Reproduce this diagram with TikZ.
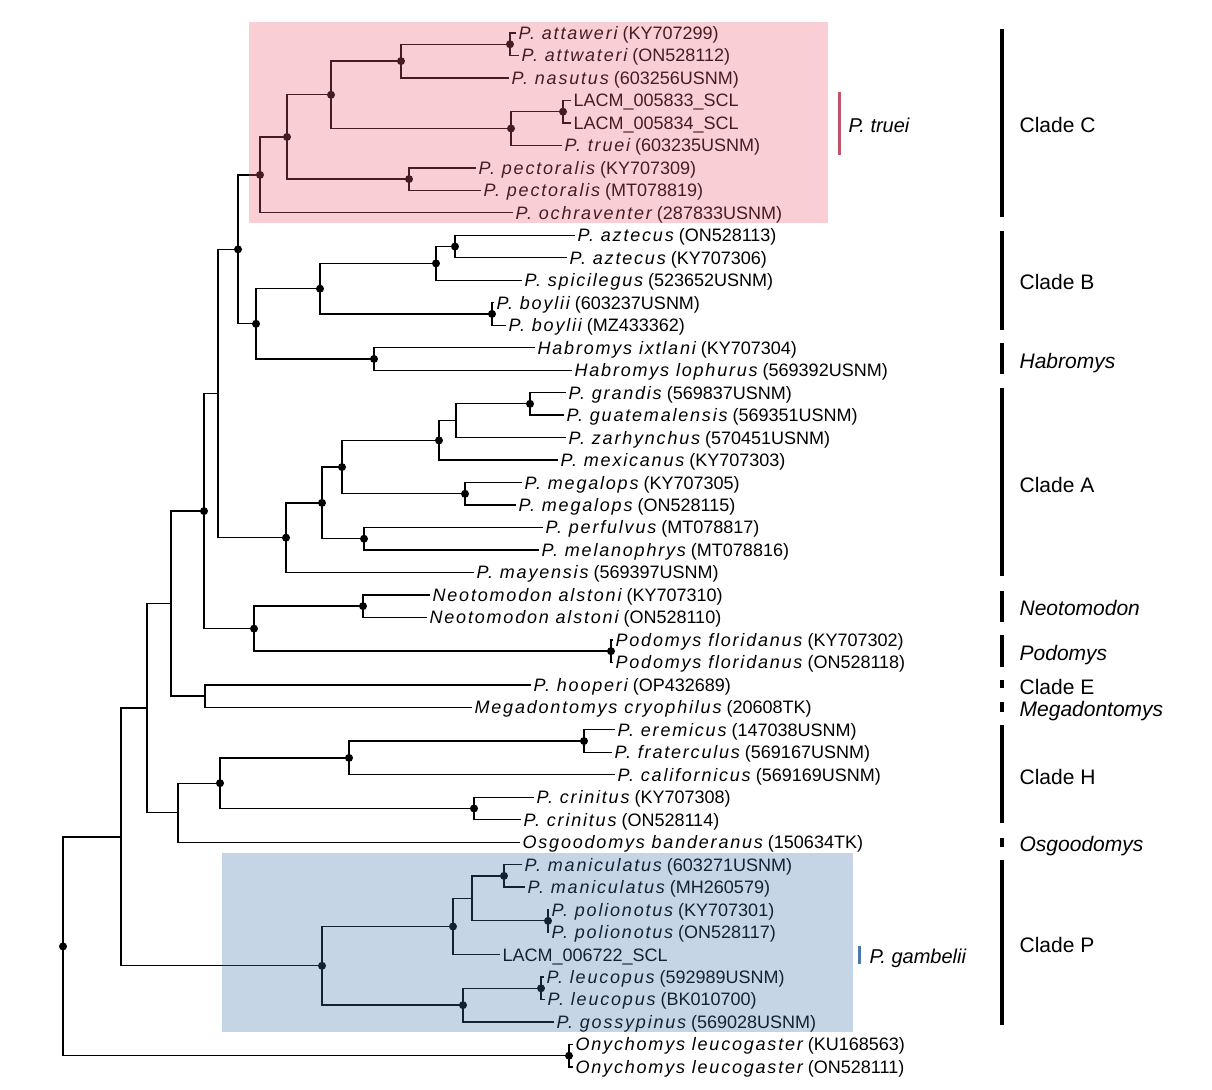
\documentclass[tikz,border=0pt]{standalone}
\usepackage{fontspec}
\setmainfont{Liberation Sans}
\newfontfamily\spacedit[LetterSpace=10]{Liberation Sans Italic}
\newcommand{\sci}[1]{{\spacedit #1}}
\definecolor{trueired}{RGB}{193,84,104}
\definecolor{gambblue}{RGB}{72,122,172}
\definecolor{pinkbox}{RGB}{235,92,112}
\definecolor{bluebox}{RGB}{65,115,168}
\begin{document}
\begin{tikzpicture}[x=0.5pt,y=-0.5pt,line width=0.65pt,
  leaf/.style={anchor=west,inner sep=1pt,text height=6.45pt,text depth=0pt,font=\fontsize{9}{10}\selectfont},
  cladelab/.style={anchor=west,inner sep=0pt,text height=7.5pt,text depth=0pt,font=\fontsize{10.5}{12}\selectfont},
  cladebar/.style={line width=2pt}]
\useasboundingbox (0,0) rectangle (1212,1090);

% internal nodes
\coordinate (nAtt) at (510,44.25);
\coordinate (nAttNas) at (401,61.1);
\coordinate (nLacm) at (563,111.65);
\coordinate (nTruei) at (511,128.5);
\coordinate (nNasTru) at (331,94.8);
\coordinate (nPect) at (409,179.1);
\coordinate (nC2) at (287,136.95);
\coordinate (nC) at (260,174.9);
\coordinate (nAzt) at (455,246.55);
\coordinate (nAztSpi) at (436,263.4);
\coordinate (nBoy) at (492,313.95);
\coordinate (nB) at (320,288.7);
\coordinate (nHab) at (374,358.95);
\coordinate (nBH) at (256,323.8);
\coordinate (nCBH) at (238,249.35);
\coordinate (nGra) at (530,403.85);
\coordinate (nGraZar) at (456,420.7);
\coordinate (nMex) at (439,440.4);
\coordinate (nMeg) at (465,493.8);
\coordinate (nA3) at (342,467.1);
\coordinate (nPer) at (364,538.75);
\coordinate (nA2) at (322,502.9);
\coordinate (nA) at (286,537.7);
\coordinate (nCBHA) at (218,393.5);
\coordinate (nNeo) at (363,606.15);
\coordinate (nPod) at (611,651.15);
\coordinate (nNP) at (254,628.65);
\coordinate (nUp) at (204,511.1);
\coordinate (nEM) at (205,696.1);
\coordinate (nUp2) at (171,603.6);
\coordinate (nEre) at (584,741.05);
\coordinate (nCal) at (349,757.9);
\coordinate (nCri) at (474,808.45);
\coordinate (nH) at (220,783.2);
\coordinate (nHO) at (178,812.7);
\coordinate (nUp3) at (147,708.15);
\coordinate (nMan) at (504,875.9);
\coordinate (nPol) at (548,920.85);
\coordinate (nManPol) at (472,898.4);
\coordinate (nPLacm) at (453,926.5);
\coordinate (nLeu) at (541,988.3);
\coordinate (nGos) at (463,1005.15);
\coordinate (nP) at (322,965.8);
\coordinate (nIn) at (121,836.98);
\coordinate (nOny) at (569,1055.75);
\coordinate (root) at (63,946.4);

% tips
\node[leaf] (t1) at (516,33.0) {\sci{P. attaweri} (KY707299)};
\node[leaf] (t2) at (519,55.5) {\sci{P. attwateri} (ON528112)};
\node[leaf] (t3) at (509,78.0) {\sci{P. nasutus} (603256USNM)};
\node[leaf] (t4) at (571,100.4) {LACM\_005833\_SCL};
\node[leaf] (t5) at (571,122.9) {LACM\_005834\_SCL};
\node[leaf] (t6) at (562,145.4) {\sci{P. truei} (603235USNM)};
\node[leaf] (t7) at (476,167.9) {\sci{P. pectoralis} (KY707309)};
\node[leaf] (t8) at (481,190.3) {\sci{P. pectoralis} (MT078819)};
\node[leaf] (t9) at (513,212.8) {\sci{P. ochraventer} (287833USNM)};
\node[leaf] (t10) at (575,235.3) {\sci{P. aztecus} (ON528113)};
\node[leaf] (t11) at (567,257.8) {\sci{P. aztecus} (KY707306)};
\node[leaf] (t12) at (522,280.3) {\sci{P. spicilegus} (523652USNM)};
\node[leaf] (t13) at (494,302.7) {\sci{P. boylii} (603237USNM)};
\node[leaf] (t14) at (506,325.2) {\sci{P. boylii} (MZ433362)};
\node[leaf] (t15) at (535,347.7) {\sci{Habromys ixtlani} (KY707304)};
\node[leaf] (t16) at (572,370.2) {\sci{Habromys lophurus} (569392USNM)};
\node[leaf] (t17) at (566,392.6) {\sci{P. grandis} (569837USNM)};
\node[leaf] (t18) at (564,415.1) {\sci{P. guatemalensis} (569351USNM)};
\node[leaf] (t19) at (566,437.6) {\sci{P. zarhynchus} (570451USNM)};
\node[leaf] (t20) at (558,460.1) {\sci{P. mexicanus} (KY707303)};
\node[leaf] (t21) at (522,482.6) {\sci{P. megalops} (KY707305)};
\node[leaf] (t22) at (516,505.0) {\sci{P. megalops} (ON528115)};
\node[leaf] (t23) at (543,527.5) {\sci{P. perfulvus} (MT078817)};
\node[leaf] (t24) at (539,550.0) {\sci{P. melanophrys} (MT078816)};
\node[leaf] (t25) at (474,572.5) {\sci{P. mayensis} (569397USNM)};
\node[leaf] (t26) at (430,594.9) {\sci{Neotomodon alstoni} (KY707310)};
\node[leaf] (t27) at (427,617.4) {\sci{Neotomodon alstoni} (ON528110)};
\node[leaf] (t28) at (613,639.9) {\sci{Podomys floridanus} (KY707302)};
\node[leaf] (t29) at (613,662.4) {\sci{Podomys floridanus} (ON528118)};
\node[leaf] (t30) at (531,684.9) {\sci{P. hooperi} (OP432689)};
\node[leaf] (t31) at (472,707.3) {\sci{Megadontomys cryophilus} (20608TK)};
\node[leaf] (t32) at (615,729.8) {\sci{P. eremicus} (147038USNM)};
\node[leaf] (t33) at (612,752.3) {\sci{P. fraterculus} (569167USNM)};
\node[leaf] (t34) at (615,774.8) {\sci{P. californicus} (569169USNM)};
\node[leaf] (t35) at (534,797.2) {\sci{P. crinitus} (KY707308)};
\node[leaf] (t36) at (521,819.7) {\sci{P. crinitus} (ON528114)};
\node[leaf] (t37) at (520,842.2) {\sci{Osgoodomys banderanus} (150634TK)};
\node[leaf] (t38) at (522,864.7) {\sci{P. maniculatus} (603271USNM)};
\node[leaf] (t39) at (525,887.1) {\sci{P. maniculatus} (MH260579)};
\node[leaf] (t40) at (549,909.6) {\sci{P. polionotus} (KY707301)};
\node[leaf] (t41) at (549,932.1) {\sci{P. polionotus} (ON528117)};
\node[leaf] (t42) at (500,954.6) {LACM\_006722\_SCL};
\node[leaf] (t43) at (544,977.1) {\sci{P. leucopus} (592989USNM)};
\node[leaf] (t44) at (545,999.5) {\sci{P. leucopus} (BK010700)};
\node[leaf] (t45) at (554,1022.0) {\sci{P. gossypinus} (569028USNM)};
\node[leaf] (t46) at (573,1044.5) {\sci{Onychomys leucogaster} (KU168563)};
\node[leaf] (t47) at (573,1067.0) {\sci{Onychomys leucogaster} (ON528111)};

% branches
\foreach \p/\c in {nAtt/t1.west,nAtt/t2.west,nAttNas/nAtt,nAttNas/t3.west,
  nLacm/t4.west,nLacm/t5.west,nTruei/nLacm,nTruei/t6.west,nNasTru/nAttNas,nNasTru/nTruei,
  nPect/t7.west,nPect/t8.west,nC2/nNasTru,nC2/nPect,nC/nC2,nC/t9.west,
  nAzt/t10.west,nAzt/t11.west,nAztSpi/nAzt,nAztSpi/t12.west,nBoy/t13.west,nBoy/t14.west,
  nB/nAztSpi,nB/nBoy,nHab/t15.west,nHab/t16.west,nBH/nB,nBH/nHab,nCBH/nC,nCBH/nBH,
  nGra/t17.west,nGra/t18.west,nGraZar/nGra,nGraZar/t19.west,nMex/nGraZar,nMex/t20.west,
  nMeg/t21.west,nMeg/t22.west,nA3/nMex,nA3/nMeg,nPer/t23.west,nPer/t24.west,
  nA2/nA3,nA2/nPer,nA/nA2,nA/t25.west,nCBHA/nCBH,nCBHA/nA,
  nNeo/t26.west,nNeo/t27.west,nPod/t28.west,nPod/t29.west,nNP/nNeo,nNP/nPod,
  nUp/nCBHA,nUp/nNP,nEM/t30.west,nEM/t31.west,nUp2/nUp,nUp2/nEM,
  nEre/t32.west,nEre/t33.west,nCal/nEre,nCal/t34.west,nCri/t35.west,nCri/t36.west,
  nH/nCal,nH/nCri,nHO/nH,nHO/t37.west,nUp3/nUp2,nUp3/nHO,
  nMan/t38.west,nMan/t39.west,nPol/t40.west,nPol/t41.west,nManPol/nMan,nManPol/nPol,
  nPLacm/nManPol,nPLacm/t42.west,nLeu/t43.west,nLeu/t44.west,nGos/nLeu,nGos/t45.west,
  nP/nPLacm,nP/nGos,nIn/nUp3,nIn/nP,nOny/t46.west,nOny/t47.west,root/nIn,root/nOny}{
  \draw (\p) |- (\c);
}
\foreach \n in {nAtt,nAttNas,nLacm,nTruei,nNasTru,nPect,nC2,nC,nAzt,nAztSpi,nBoy,nB,nHab,nBH,nCBH,
  nGra,nMex,nMeg,nA3,nPer,nA2,nA,nNeo,nPod,nNP,nUp,nEre,nCal,nCri,nH,
  nMan,nPol,nPLacm,nLeu,nGos,nP,nOny,root}{
  \fill (\n) circle (2pt);
}

% highlighted groups
\fill[pinkbox,fill opacity=0.3] (249,22) rectangle (828,223);
\fill[bluebox,fill opacity=0.3] (222,853) rectangle (853,1032);
\draw[trueired,line width=1.5pt] (839,92) -- (839,155);
\node[cladelab,font=\fontsize{10}{12}\selectfont] (truei) at (848,125) {\textit{P. truei}};
\draw[gambblue,line width=1.5pt] (859,946) -- (859,964);
\node[cladelab,font=\fontsize{10}{12}\selectfont] (gambelii) at (869,956) {\textit{P. gambelii}};

% clades
\foreach \ya/\yb in {29/217,231/330,343/374,388/576,591/622,635/667,680/688,702/712,725/823,838/847,860/1025}{
  \draw[cladebar] (1002,\ya) -- (1002,\yb);
}
\node[cladelab] (cladeC) at (1019,125) {Clade C};
\node[cladelab] (cladeB) at (1019,282) {Clade B};
\node[cladelab] (habromys) at (1019,361) {\textit{Habromys}};
\node[cladelab] (cladeA) at (1019,485) {Clade A};
\node[cladelab] (neotomodon) at (1019,608) {\textit{Neotomodon}};
\node[cladelab] (podomys) at (1019,653) {\textit{Podomys}};
\node[cladelab] (cladeE) at (1019,687) {Clade E};
\node[cladelab] (megadontomys) at (1019,709) {\textit{Megadontomys}};
\node[cladelab] (cladeH) at (1019,777) {Clade H};
\node[cladelab] (osgoodomys) at (1019,844) {\textit{Osgoodomys}};
\node[cladelab] (cladeP) at (1019,945) {Clade P};
\end{tikzpicture}
\end{document}
